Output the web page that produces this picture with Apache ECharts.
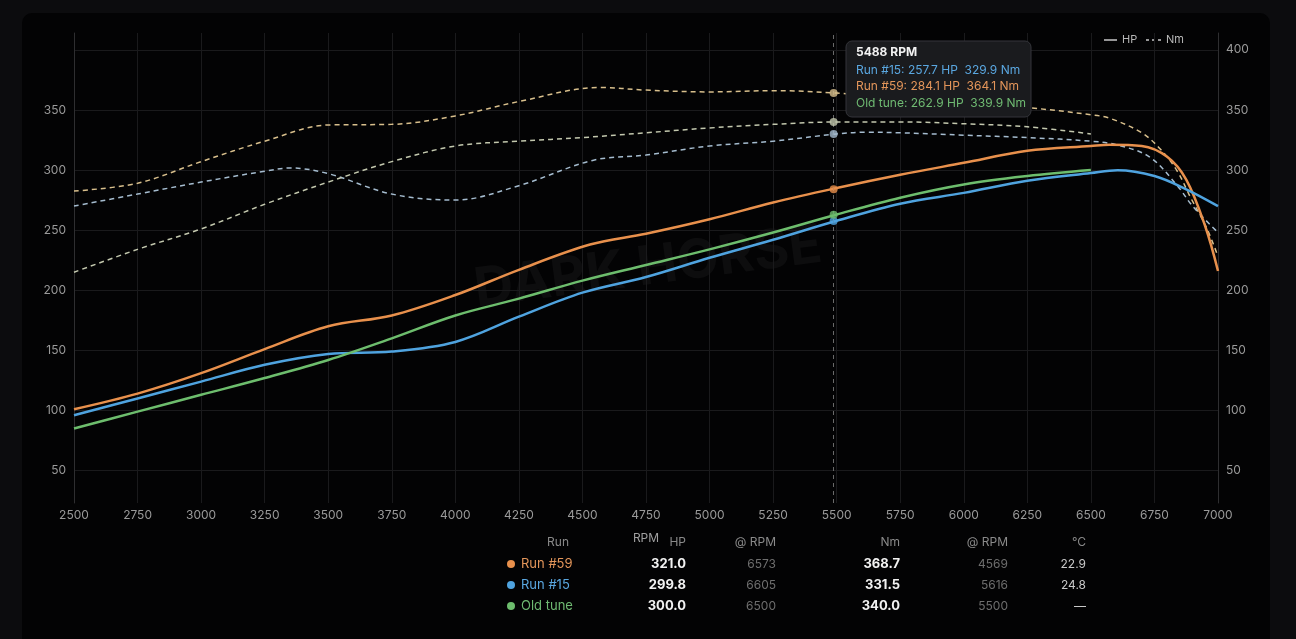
<!DOCTYPE html>
<html>
<head>
<meta charset="utf-8">
<title>Dyno</title>
<script src="https://cdn.jsdelivr.net/npm/echarts@6/dist/echarts.min.js"></script>
<style>
  html, body { margin: 0; padding: 0; background: #0c0c0e; overflow: hidden; }
  #panel { position: absolute; left: 22px; top: 13px; width: 1248px; height: 640px; background: #030304; border-radius: 10px; }
  #main { position: absolute; left: 0; top: 0; width: 1296px; height: 639px; }
</style>
</head>
<body>
<div id="panel"></div>
<div id="main"></div>
<script>
// run order: Run #59, Run #15, Old tune
const runNames = ['Run #59', 'Run #15', 'Old tune'];
const hpColors = ['#e8904c', '#4fa3df', '#6dbd6d'];
const nmColors = ['#d8bf8c', '#a5bccf', '#c3c8ae'];
const textColors = ['#e3955a', '#5aa7e0', '#6fba72'];

const run59HpRpm = [2500, 2750, 3000, 3250, 3500, 3750, 4000, 4250, 4530, 4750, 5000, 5250, 5500, 5750, 6000, 6250, 6500, 6573, 6700, 6800, 6875, 6950, 7000];
const run59Hp = [101, 114, 131, 151, 170, 179, 196, 217, 238, 247, 259, 273, 285, 296, 306, 316, 320, 321, 320, 311, 292, 253, 216];
const run15HpRpm = [2500, 2750, 3000, 3250, 3500, 3750, 4000, 4250, 4500, 4750, 5000, 5250, 5500, 5750, 6000, 6250, 6500, 6605, 6750, 6875, 7000];
const run15Hp = [96, 110, 124, 138, 147, 149, 157, 178, 198, 211, 227, 242, 257.8, 272, 281, 291, 297.5, 299.8, 295, 284, 270];
const oldHpRpm = [2500, 2750, 3000, 3250, 3500, 3750, 4000, 4250, 4500, 4750, 5000, 5250, 5500, 5750, 6000, 6250, 6500];
const oldHp = [85, 99, 113, 127, 142, 160, 179, 193, 208, 221, 234, 248, 263, 277, 288, 295, 300];

const run59NmRpm = [2500, 2750, 3000, 3250, 3500, 3750, 4000, 4250, 4569, 4750, 5000, 5250, 5500, 5750, 6000, 6250, 6500, 6575, 6700, 6775, 6840, 6890, 6957, 7000];
const run59Nm = [282.5, 289, 307, 324, 337.5, 338, 345, 357, 368.7, 366.5, 365, 366, 364, 359, 356, 352, 346, 343, 331, 317, 299, 278, 251, 228];
const run15NmRpm = [2500, 2750, 3000, 3250, 3350, 3500, 3750, 4000, 4250, 4540, 4750, 5000, 5250, 5500, 5616, 5750, 6000, 6250, 6500, 6600, 6730, 6840, 6900, 7000];
const run15Nm = [270, 280, 290, 299, 301.7, 297, 280, 275, 287, 308, 312.5, 320, 324, 330, 331.5, 331, 329, 327, 324, 321, 311, 287, 270, 248];
const oldNmRpm = [2500, 2750, 3000, 3250, 3500, 3750, 4000, 4250, 4500, 4750, 5000, 5250, 5500, 5750, 6000, 6250, 6500];
const oldNm = [215, 234, 251, 271.5, 290, 307, 320, 324, 327, 331, 335, 338, 340, 340, 338.5, 336, 330];

// hover readout
const hoverRpm = 5488;
const hoverHp = [284.1, 257.7, 262.9];
const hoverNm = [364.1, 329.9, 339.9];
const tooltipOrder = [1, 0, 2];

// summary table
const peakHp = ['321.0', '299.8', '300.0'];
const peakHpRpm = ['6573', '6605', '6500'];
const peakNm = ['368.7', '331.5', '340.0'];
const peakNmRpm = ['4569', '5616', '5500'];
const tempC = ['22.9', '24.8', '—'];
const tableHeaders = ['Run', 'HP', '@ RPM', 'Nm', '@ RPM', '°C'];

const pairs = (xs, ys) => xs.map((x, i) => [x, ys[i]]);
const hpData = [pairs(run59HpRpm, run59Hp), pairs(run15HpRpm, run15Hp), pairs(oldHpRpm, oldHp)];
const nmData = [pairs(run59NmRpm, run59Nm), pairs(run15NmRpm, run15Nm), pairs(oldNmRpm, oldNm)];

const font = 'Inter, "Noto Sans", sans-serif';
const chart = echarts.init(document.getElementById('main'));

const series = [];
nmData.forEach((d, i) => {
    series.push({
        name: runNames[i] + ' Nm', type: 'line', yAxisIndex: 1, data: d,
        smooth: 0.35, showSymbol: false, z: 2,
        lineStyle: { color: nmColors[i], width: 1.5, type: [5, 4] }
    });
});
hpData.forEach((d, i) => {
    series.push({
        name: runNames[i] + ' HP', type: 'line', yAxisIndex: 0, data: d,
        smooth: 0.35, showSymbol: false, z: 3,
        lineStyle: { color: hpColors[i], width: 2.5 }
    });
});
series[0].markLine = {
    silent: true, symbol: 'none', label: { show: false },
    lineStyle: { color: '#6a6a6a', type: [4, 4], width: 1 },
    data: [{ xAxis: hoverRpm }]
};
series.push({
    type: 'scatter', yAxisIndex: 0, symbolSize: 8, z: 5,
    data: runNames.map((n, i) => ({ value: [hoverRpm, hoverHp[i]], itemStyle: { color: hpColors[i] } }))
});
series.push({
    type: 'scatter', yAxisIndex: 1, symbolSize: 8, z: 5,
    data: runNames.map((n, i) => ({ value: [hoverRpm, hoverNm[i]], itemStyle: { color: nmColors[i] } }))
});

const graphic = [];
// watermark
graphic.push({
    type: 'text', x: 648, y: 268, rotation: 0.13, z: 0, silent: true,
    style: { text: 'DARK HORSE', fill: 'rgba(255,255,255,0.045)', font: 'bold 54px ' + font, align: 'center', verticalAlign: 'middle' }
});
// legend
graphic.push({ type: 'line', shape: { x1: 1104, y1: 40, x2: 1117, y2: 40 }, style: { stroke: '#c8c8c8', lineWidth: 1.5 } });
graphic.push({ type: 'text', x: 1122, y: 40, style: { text: 'HP', fill: '#b8b8b8', font: '11px ' + font, verticalAlign: 'middle' } });
graphic.push({ type: 'line', shape: { x1: 1146, y1: 40, x2: 1161, y2: 40 }, style: { stroke: '#c8c8c8', lineWidth: 1.5, lineDash: [3, 3] } });
graphic.push({ type: 'text', x: 1166, y: 40, style: { text: 'Nm', fill: '#b8b8b8', font: '11px ' + font, verticalAlign: 'middle' } });
// hover box
graphic.push({
    type: 'rect', shape: { x: 846, y: 41, width: 185, height: 76, r: 6 }, z: 10,
    style: { fill: '#1a1b1e', stroke: '#34353a', lineWidth: 1 }
});
graphic.push({ type: 'text', x: 856, y: 52, z: 11, style: { text: hoverRpm + ' RPM', fill: '#f2f2f2', font: 'bold 12px ' + font, verticalAlign: 'middle' } });
tooltipOrder.forEach((k, j) => {
    graphic.push({
        type: 'text', x: 856, y: 70 + j * 16.5, z: 11,
        style: {
            text: runNames[k] + ': ' + hoverHp[k].toFixed(1) + ' HP  ' + hoverNm[k].toFixed(1) + ' Nm',
            fill: textColors[k], font: '12px ' + font, verticalAlign: 'middle'
        }
    });
});
// table
const colRight = [569, 686, 776, 900, 1008, 1086];
tableHeaders.forEach((h, c) => {
    graphic.push({ type: 'text', x: colRight[c], y: 542, style: { text: h, fill: '#8a8a8a', font: '12px ' + font, align: 'right', verticalAlign: 'middle' } });
});
runNames.forEach((n, i) => {
    const y = 564 + i * 21;
    graphic.push({ type: 'circle', shape: { cx: 511, cy: y, r: 4 }, style: { fill: hpColors[i] } });
    graphic.push({ type: 'text', x: 521, y: y, style: { text: n, fill: textColors[i], font: '13px ' + font, verticalAlign: 'middle' } });
    const cells = [
        [peakHp[i], '#f2f2f2', 'bold 13px '],
        [peakHpRpm[i], '#6e6e6e', '12px '],
        [peakNm[i], '#f2f2f2', 'bold 13px '],
        [peakNmRpm[i], '#6e6e6e', '12px '],
        [tempC[i], '#c8c8c8', '12px ']
    ];
    cells.forEach((cell, c) => {
        graphic.push({ type: 'text', x: colRight[c + 1], y: y, style: { text: cell[0], fill: cell[1], font: cell[2] + font, align: 'right', verticalAlign: 'middle' } });
    });
});

const yLabel = (hideTop) => ({
    color: '#9a9a9a', fontSize: 12, fontFamily: font,
    formatter: (v) => (v % 50 !== 0 || (hideTop && v >= 400)) ? '' : String(v)
});

chart.setOption({
    backgroundColor: 'transparent',
    animation: false,
    textStyle: { fontFamily: font },
    grid: { left: 74, right: 78, top: 33, bottom: 136, outerBoundsMode: 'none' },
    xAxis: {
        type: 'value', min: 2500, max: 7000, interval: 250,
        name: 'RPM', nameLocation: 'middle', nameGap: 29,
        nameTextStyle: { color: '#a0a0a0', fontSize: 12, fontFamily: font },
        axisLine: { show: false }, axisTick: { show: false },
        axisLabel: { color: '#9a9a9a', fontSize: 12, margin: 6, fontFamily: font, formatter: (v) => String(v) },
        splitLine: { show: true, lineStyle: { color: '#1a1a1c', width: 1 } }
    },
    yAxis: [
        {
            type: 'value', min: 23, max: 414, minInterval: 50, maxInterval: 50, splitNumber: 8,
            axisLine: { show: true, lineStyle: { color: '#2e2e30' } }, axisTick: { show: false },
            axisLabel: yLabel(true),
            splitLine: { show: true, showMinLine: false, showMaxLine: false, lineStyle: { color: '#1a1a1c' } }
        },
        {
            type: 'value', min: 23, max: 414, minInterval: 50, maxInterval: 50, splitNumber: 8,
            axisLine: { show: true, lineStyle: { color: '#2e2e30' } }, axisTick: { show: false },
            axisLabel: yLabel(false),
            splitLine: { show: false }
        }
    ],
    series: series,
    graphic: graphic
});
</script>
</body>
</html>
